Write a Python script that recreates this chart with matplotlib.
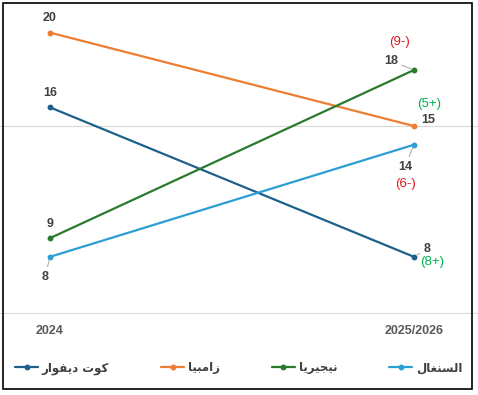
"""
Slope chart: ranking of four countries, 2024 vs 2025/2026.
"""

import matplotlib
matplotlib.use("Agg")
import matplotlib.pyplot as plt
from matplotlib.patches import Rectangle

# ── data ────────────────────────────────────────────────────────────────
countries = ["كوت ديفوار", "زامبيا", "نيجيريا", "السنغال"]
periods = ["2024", "2025/2026"]
rank_2024 = [16, 20, 9, 8]
rank_2026 = [8, 15, 18, 14]

colors = ["#1F5F8B", "#ED7D31", "#2A7A2E", "#2B9FD3"]
# label offsets in pixels (start label, end label, change label)
off_start = [(0, 14), (0, 15), (0, 14), (-5, -20)]
off_end = [(13, 8), (14, 6), (-23, 9), (-9, -22)]
off_change = [(18, -5), (15, 22), (-14, 28), (-8, -39)]
leader_start = [False, False, False, True]
leader_end = [True, False, True, True]

# ── minimal Arabic shaping (matplotlib has no RTL/joining support) ──────
# letter: (isolated, final, initial, medial); None = does not join forward
FORMS = {
    "ا": ("\uFE8D", "\uFE8E", None, None),
    "ب": ("\uFE8F", "\uFE90", "\uFE91", "\uFE92"),
    "ت": ("\uFE95", "\uFE96", "\uFE97", "\uFE98"),
    "ج": ("\uFE9D", "\uFE9E", "\uFE9F", "\uFEA0"),
    "د": ("\uFEA9", "\uFEAA", None, None),
    "ر": ("\uFEAD", "\uFEAE", None, None),
    "ز": ("\uFEAF", "\uFEB0", None, None),
    "س": ("\uFEB1", "\uFEB2", "\uFEB3", "\uFEB4"),
    "غ": ("\uFECD", "\uFECE", "\uFECF", "\uFED0"),
    "ف": ("\uFED1", "\uFED2", "\uFED3", "\uFED4"),
    "ك": ("\uFED9", "\uFEDA", "\uFEDB", "\uFEDC"),
    "ل": ("\uFEDD", "\uFEDE", "\uFEDF", "\uFEE0"),
    "م": ("\uFEE1", "\uFEE2", "\uFEE3", "\uFEE4"),
    "ن": ("\uFEE5", "\uFEE6", "\uFEE7", "\uFEE8"),
    "و": ("\uFEED", "\uFEEE", None, None),
    "ي": ("\uFEF1", "\uFEF2", "\uFEF3", "\uFEF4"),
}


def shape_ar(text):
    out = []
    for i, ch in enumerate(text):
        if ch not in FORMS:
            out.append(ch)
            continue
        prev = text[i - 1] if i > 0 else ""
        nxt = text[i + 1] if i + 1 < len(text) else ""
        joins_prev = prev in FORMS and FORMS[prev][2] is not None
        joins_next = nxt in FORMS and FORMS[ch][2] is not None
        iso, fin, ini, med = FORMS[ch]
        if joins_prev and joins_next:
            out.append(med)
        elif joins_prev:
            out.append(fin)
        elif joins_next:
            out.append(ini)
        else:
            out.append(iso)
    return "".join(reversed(out))


# ── figure ──────────────────────────────────────────────────────────────
fig = plt.figure(figsize=(4.78, 3.95), dpi=100)
ax = fig.add_axes([0, 81 / 395, 1, 1 - 81 / 395 - 4.6 / 395])

x = [0, 1]
lab_kw = dict(fontsize=9, fontweight="bold", color="#404040",
              family="Liberation Sans", ha="center", va="center")
leader = dict(arrowstyle="-", color="#A6A6A6", lw=0.7, shrinkA=1, shrinkB=2)

for i, name in enumerate(countries):
    a, b = rank_2024[i], rank_2026[i]
    ax.plot(x, [a, b], color=colors[i], lw=1.6, marker="o", ms=3.2,
            label=shape_ar(name), solid_capstyle="round")
    ax.annotate(str(a), (0, a), xytext=off_start[i], textcoords="offset pixels",
                arrowprops=leader if leader_start[i] else None, **lab_kw)
    ax.annotate(str(b), (1, b), xytext=off_end[i], textcoords="offset pixels",
                arrowprops=leader if leader_end[i] else None, **lab_kw)
    diff = a - b
    txt = f"({abs(diff)}{'+' if diff > 0 else '-'})"
    ax.annotate(txt, (1, b), xytext=off_change[i], textcoords="offset pixels",
                fontsize=9.5, family="Liberation Sans", ha="center", va="center",
                color="#00B050" if diff > 0 else "#E0181B")

ax.set_yticks([5, 15, 25])
ax.set_yticklabels([])
ax.set_xlim(-50 / 364, 1 + 64 / 364)
ax.set_ylim(4.94, 21.5)
ax.tick_params(axis="y", length=0)
ax.grid(axis="y", color="#D9D9D9", lw=0.8)
ax.set_xticks(x)
ax.set_xticklabels(periods, fontsize=9, fontweight="bold", color="#595959",
                   family="Liberation Sans")
ax.tick_params(axis="x", length=0, pad=8)
for s in ax.spines.values():
    s.set_visible(False)
ax.set_axisbelow(True)

leg = fig.legend(loc="center left", bbox_to_anchor=(10 / 478, 27 / 395, 457 / 478, 0),
                 ncol=4, mode="expand", frameon=False, handlelength=2.0,
                 handletextpad=0.3, borderaxespad=0,
                 prop=dict(family="DejaVu Sans", weight="bold", size=8.5))
for t in leg.get_texts():
    t.set_color("#404040")

fig.add_artist(Rectangle((3 / 478, 6 / 395), 469 / 478, 386 / 395,
                         transform=fig.transFigure, fill=False,
                         edgecolor="black", lw=1.2))

fig.savefig("out.png", dpi=100)
